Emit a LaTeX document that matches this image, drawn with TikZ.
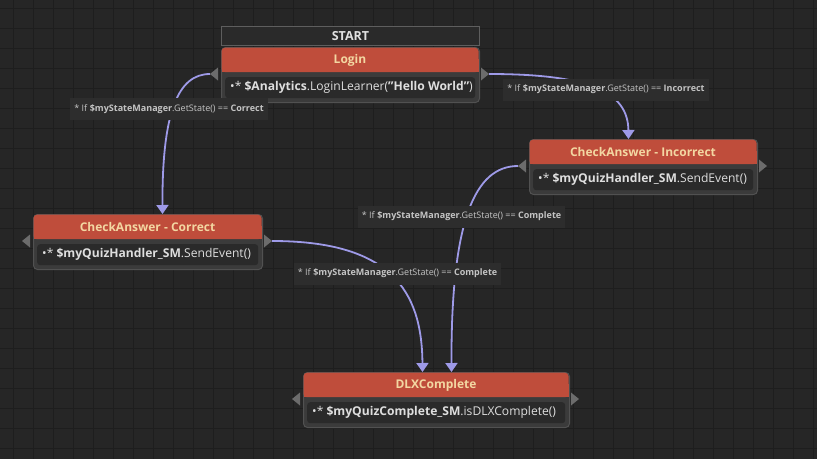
\documentclass[tikz,border=0pt]{standalone}
\usepackage{fontspec}
\setmainfont{Open Sans}[Ligatures=ResetAll]
\usetikzlibrary{arrows.meta,calc}
\definecolor{bgc}{HTML}{262626}
\definecolor{gridc}{HTML}{1E1E1E}
\definecolor{framec}{HTML}{3B3B3B}
\definecolor{frameb}{HTML}{515151}
\definecolor{hdrc}{HTML}{BF4D3B}
\definecolor{titlec}{HTML}{F3D7A2}
\definecolor{bodyc}{HTML}{2A2A2A}
\definecolor{bodytc}{HTML}{DEDEDE}
\definecolor{portc}{HTML}{6C6C6C}
\definecolor{edgec}{HTML}{9E9AE8}
\definecolor{lblc}{HTML}{2D2D2D}
\definecolor{lbltc}{HTML}{C4C4C4}
\definecolor{startb}{HTML}{5E5E5E}
\tikzset{
  frame/.style={draw=frameb, fill=framec, line width=1pt, rounded corners=4pt, inner sep=0pt},
  hdrnode/.style={fill=hdrc, rounded corners=3.5pt, inner sep=0pt, text=titlec, font=\fontsize{12}{13}\selectfont\bfseries},
  bodybox/.style={fill=bodyc, rounded corners=3pt, inner sep=0pt},
  bodytext/.style={text=bodytc, inner sep=0pt, font=\fontsize{12.1}{13}\selectfont},
  port/.style={fill=portc},
  edge/.style={draw=edgec, line width=1.8pt, -{Triangle[width=12pt,length=9pt]}},
  lbl/.style={fill=lblc, text=lbltc, inner xsep=4pt, inner ysep=0pt, minimum height=22pt, font=\fontsize{9}{10}\selectfont},
  startbox/.style={draw=startb, fill=bodyc, line width=1pt, inner sep=0pt, text=bodytc!90, font=\fontsize{12.5}{13}\selectfont\bfseries}
}
\newcommand\mystate[6]{%
  \node[frame, minimum width={#3-#2}, minimum height=55pt, anchor=north west] (#1) at (#2,#4) {};
  \fill[hdrc] (#2+0.5,#4+12) rectangle (#3-0.5,#4+25);
  \node[hdrnode, minimum width={#3-#2-1}, minimum height=24.5pt, anchor=north] (#1-h) at ({(#2+#3)/2},#4+0.5) {#5};
  \node[bodybox, minimum width={#3-#2-8}, minimum height=21pt, anchor=north west] (#1-b) at (#2+4,#4+30) {};
  \node[bodytext, anchor=west] (#1-t) at (#2+9,#4+40.5) {#6};
  \fill[port] (#2-11,#4+27) -- (#2-3,#4+20.5) -- (#2-3,#4+33.5) -- cycle;
  \fill[port] (#3+10,#4+27) -- (#3+2,#4+20.5) -- (#3+2,#4+33.5) -- cycle;
  \coordinate (#1-L) at (#2-11,#4+27);
  \coordinate (#1-R) at (#3+10,#4+27);
}
\begin{document}
\begin{tikzpicture}[x=1pt,y=-1pt]
\fill[bgc] (0,0) rectangle (817,459);
\useasboundingbox (0,0) rectangle (817,459);
\foreach \i in {0,...,40} {\draw[gridc, line width=1pt] (13+20*\i,0) -- (13+20*\i,459);}
\foreach \i in {0,...,22} {\draw[gridc, line width=1pt] (0,8+20*\i) -- (817,8+20*\i);}

\node[startbox, minimum width=258pt, minimum height=19pt, anchor=north west] (start) at (221,26) {START};

\mystate{login}{221}{479}{47}{Login}{•* \textbf{\$Analytics}.LoginLearner(\textbf{"Hello World"})}
\mystate{correct}{33}{262}{214}{CheckAnswer - Correct}{•* \textbf{\$myQuizHandler\_SM}.SendEvent()}
\mystate{incorrect}{529}{757}{139}{CheckAnswer - Incorrect}{•* \textbf{\$myQuizHandler\_SM}.SendEvent()}
\mystate{dlx}{303}{569}{372}{DLXComplete}{•* \textbf{\$myQuizComplete\_SM}.isDLXComplete()}

\draw[edge] (login-L) .. controls (178,74) and (162,112) .. ([xshift=14.5pt]correct.north);
\draw[edge] (login-R) .. controls (590,74) and (628,92) .. ([xshift=-15pt]incorrect.north);
\draw[edge] (correct-R) .. controls (390,241) and (422,290) .. ([xshift=-14pt]dlx.north);
\draw[edge] (incorrect-L) .. controls (475,166) and (451,220) .. ([xshift=15pt]dlx.north);

\node[lbl] (l1) at (169,109) {* If \textbf{\$myStateManager}.GetState() == \textbf{Correct}};
\node[lbl] (l2) at (606,89.5) {* If \textbf{\$myStateManager}.GetState() == \textbf{Incorrect}};
\node[lbl] (l3) at (397.5,273.5) {* If \textbf{\$myStateManager}.GetState() == \textbf{Complete}};
\node[lbl] (l4) at (461.5,216.5) {* If \textbf{\$myStateManager}.GetState() == \textbf{Complete}};
\end{tikzpicture}
\end{document}
